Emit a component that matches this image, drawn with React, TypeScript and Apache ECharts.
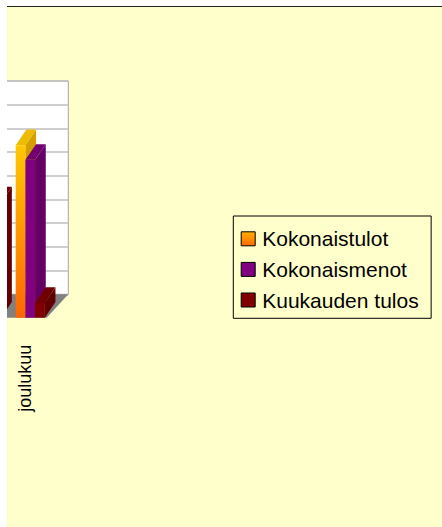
import React, { useEffect, useRef } from "react";
import * as echarts from "echarts";

// ---- data ----
const categories = ["marraskuu", "joulukuu"];
const seriesNames = ["Kokonaistulot", "Kokonaismenot", "Kuukauden tulos"];
const kokonaistulot: (number | null)[] = [null, 3640];
const kokonaismenot: (number | null)[] = [null, 3330];
const kuukaudenTulos: (number | null)[] = [2430, 310];
const valueMin = 0;
const valueMax = 4500;
const valueStep = 500;

// ---- layout / style constants ----
const CW = 435;
const CH = 520;
const BAND = 43.6;
const FRONT_LEFT = 39.7 - BAND * categories.length;
const FRONT_TOP = 97.4;
const PLOT_H = 213.3;
const WALL_DX = 21.6;
const WALL_DY = 23.4;

const FONT = "'Liberation Sans', Arial, sans-serif";

const faceColors = [
  {
    front: {
      type: "linear", x: 0, y: 0, x2: 0, y2: 1,
      colorStops: [
        { offset: 0, color: "#FFC800" },
        { offset: 1, color: "#FF6600" },
      ],
    },
    top: "#EDBB00",
    side: "#D4A000",
    legend: {
      type: "linear", x: 0, y: 0, x2: 0, y2: 1,
      colorStops: [
        { offset: 0, color: "#FFB000" },
        { offset: 1, color: "#FF6A00" },
      ],
    },
  },
  { front: "#800080", top: "#720072", side: "#640064", legend: "#800080" },
  { front: "#800000", top: "#700000", side: "#620000", legend: "#800000" },
];

const seriesValues = [kokonaistulot, kokonaismenot, kuukaudenTulos];

function makeRender(k: number) {
  return (params: any, api: any) => {
    const v = api.value(1);
    if (v == null || isNaN(v)) return null;
    const ci = api.value(0);
    const base = api.coord([ci, 0]);
    const top = api.coord([ci, v]);
    const band = api.size([1, 0])[0];
    const w = band / 4.5;
    const dx = band * 0.245;
    const dy = band * 0.36;
    const x0 = base[0] - band / 2 + band * 0.289 + k * w;
    const yT = top[1];
    const yB = base[1];
    const c = faceColors[k];
    return {
      type: "group",
      children: [
        {
          type: "polygon",
          shape: { points: [[x0 + w, yT], [x0 + w + dx, yT - dy], [x0 + w + dx, yB - dy], [x0 + w, yB]] },
          style: { fill: c.side },
        },
        {
          type: "polygon",
          shape: { points: [[x0, yT], [x0 + dx, yT - dy], [x0 + w + dx, yT - dy], [x0 + w, yT]] },
          style: { fill: c.top },
        },
        {
          type: "rect",
          shape: { x: x0, y: yT, width: w, height: yB - yT },
          style: { fill: c.front },
        },
      ],
    };
  };
}

export default function App() {
  const ref = useRef<HTMLDivElement>(null);

  useEffect(() => {
    if (!ref.current) return;
    const chart = echarts.init(ref.current, null, { renderer: "svg" });

    const option: any = {
      animation: false,
      backgroundColor: "#FFFFCC",
      textStyle: { fontFamily: FONT },
      grid: [
        {
          left: FRONT_LEFT + WALL_DX,
          top: FRONT_TOP - WALL_DY,
          width: BAND * categories.length,
          height: PLOT_H,
          show: true,
          backgroundColor: "#FFFFFF",
          borderColor: "#A6A6A6",
          borderWidth: 1,
          containLabel: false,
          outerBoundsMode: "none",
        },
        {
          left: FRONT_LEFT,
          top: FRONT_TOP,
          width: BAND * categories.length,
          height: PLOT_H,
          containLabel: false,
          outerBoundsMode: "none",
        },
      ],
      xAxis: [
        { type: "category", gridIndex: 0, data: categories, show: false },
        {
          type: "category",
          gridIndex: 1,
          data: categories,
          axisLine: { show: false },
          axisTick: { show: false },
          splitLine: { show: false },
          axisLabel: {
            rotate: 90,
            margin: 27,
            fontSize: 18,
            color: "#000",
            fontFamily: FONT,
            interval: (i: number) => i === categories.length - 1,
          },
        },
      ],
      yAxis: [
        {
          type: "value",
          gridIndex: 0,
          min: valueMin,
          max: valueMax,
          interval: valueStep,
          axisLine: { show: false },
          axisTick: { show: false },
          axisLabel: { show: false },
          splitLine: { show: true, lineStyle: { color: "#BFBFBF", width: 1.5 } },
        },
        {
          type: "value",
          gridIndex: 1,
          min: valueMin,
          max: valueMax,
          interval: valueStep,
          show: false,
        },
      ],
      legend: {
        data: seriesNames,
        orient: "vertical",
        left: 226.3,
        top: 209,
        padding: [12.3, 12.5, 7.8, 7.4],
        itemWidth: 14,
        itemHeight: 14,
        itemGap: 9.6,
        icon: "rect",
        borderColor: "#000",
        borderWidth: 1,
        itemStyle: { borderColor: "#000", borderWidth: 1 },
        textStyle: {
          fontSize: 21,
          lineHeight: 21,
          color: "#000",
          fontFamily: FONT,
          padding: [0, 0, 0, 2],
        },
      },
      series: [
        {
          type: "custom",
          name: "floor",
          xAxisIndex: 1,
          yAxisIndex: 1,
          silent: true,
          z: 1,
          data: [[0, 0]],
          renderItem: (params: any) => {
            const cs = params.coordSys;
            const yF = cs.y + cs.height;
            const L = cs.x;
            const R = cs.x + cs.width;
            return {
              type: "polygon",
              shape: {
                points: [[L, yF], [R, yF], [R + WALL_DX, yF - WALL_DY], [L + WALL_DX, yF - WALL_DY]],
              },
              style: { fill: "#808080" },
            };
          },
        },
        ...seriesNames.map((name, k) => ({
          type: "custom",
          name,
          xAxisIndex: 1,
          yAxisIndex: 1,
          z: 3 + k,
          itemStyle: { color: faceColors[k].legend },
          data: categories.map((_, i) => [i, seriesValues[k][i]]),
          encode: { x: 0, y: 1 },
          renderItem: makeRender(k),
        })),
      ],
    };

    chart.setOption(option);
    return () => chart.dispose();
  }, []);

  return (
    <div style={{ position: "absolute", left: 0, top: 0, width: 442, height: 527, background: "#fff" }}>
      <div style={{ position: "absolute", left: 7, top: 6, width: 435, height: 1, background: "#222" }} />
      <div ref={ref} style={{ position: "absolute", left: 7, top: 7, width: CW, height: CH }} />
    </div>
  );
}
